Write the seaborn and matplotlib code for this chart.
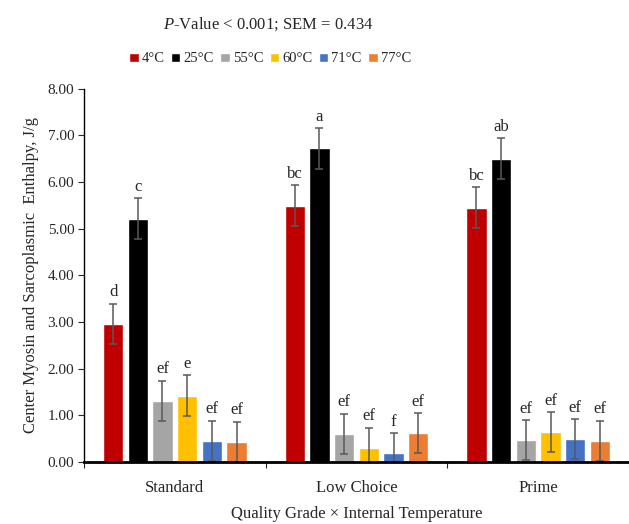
import numpy as np
import pandas as pd
import matplotlib
matplotlib.use("Agg")
import matplotlib.pyplot as plt
import seaborn as sns

grades = ["Standard", "Low Choice", "Prime"]
temps = ["4°C", "25°C", "55°C", "60°C", "71°C", "77°C"]
colors = ["#C00000", "#000000", "#A5A5A5", "#FFC000", "#4472C4", "#ED7D31"]

# enthalpy by grade, one list per temperature order above
standard = [2.96, 5.21, 1.31, 1.42, 0.45, 0.43]
low_choice = [5.49, 6.72, 0.60, 0.30, 0.19, 0.62]
prime = [5.45, 6.50, 0.47, 0.64, 0.49, 0.45]
sem = 0.434

letters_standard = ["d", "c", "ef", "e", "ef", "ef"]
letters_low_choice = ["bc", "a", "ef", "ef", "f", "ef"]
letters_prime = ["bc", "ab", "ef", "ef", "ef", "ef"]

rows = []
for g, vals, labs in zip(grades, [standard, low_choice, prime],
                         [letters_standard, letters_low_choice, letters_prime]):
    for t, v, l in zip(temps, vals, labs):
        rows.append({"grade": g, "temp": t, "value": v, "letter": l})
df = pd.DataFrame(rows)

sns.set_style("ticks")
plt.rcParams["font.family"] = ["Liberation Serif", "DejaVu Serif"]
plt.rcParams["mathtext.fontset"] = "custom"
plt.rcParams["mathtext.rm"] = "Liberation Serif"
plt.rcParams["mathtext.it"] = "Liberation Serif:italic"

fig = plt.figure(figsize=(6.29, 5.24), dpi=100)
ax = fig.add_axes([84 / 629, 62 / 524, 545 / 629, 373.5 / 524])

sns.barplot(data=df, x="grade", y="value", hue="temp", order=grades,
            hue_order=temps, palette=colors, width=0.815, gap=0.18,
            saturation=1, errorbar=None, ax=ax)

# error bars and letters
for cont, t in zip(ax.containers, temps):
    sub = df[df["temp"] == t].set_index("grade").loc[grades]
    xs = [b.get_x() + b.get_width() / 2 for b in cont]
    ax.errorbar(xs, sub["value"], yerr=sem, fmt="none", ecolor="#595959",
                elinewidth=1.1, capsize=3, capthick=1.1)
    for x, v, l in zip(xs, sub["value"], sub["letter"]):
        ax.text(x, v + sem + 0.07, l, ha="center", va="bottom", fontsize=12)

ax.set_ylim(0, 8)
ax.set_xlim(-0.5, 2.462)
ax.set_yticks(np.arange(0, 8.01, 1))
ax.set_yticklabels([f"{v:.2f}" for v in np.arange(0, 8.01, 1)], fontsize=11)
ax.set_xticks([0, 1, 2])
ax.set_xticklabels(grades, fontsize=12)
ax.set_xticks([-0.5, 0.5, 1.5, 2.5], minor=True)
ax.tick_params(axis="x", which="major", length=0, pad=13)
ax.tick_params(axis="x", which="minor", length=4, width=0.8, direction="out")
ax.tick_params(axis="y", length=4, width=0.8, direction="out", pad=3)
for s in ["top", "right"]:
    ax.spines[s].set_visible(False)
ax.spines["left"].set_color("black")
ax.spines["left"].set_linewidth(1.0)
ax.spines["bottom"].set_color("black")
ax.spines["bottom"].set_linewidth(2.0)

ax.set_xlabel("Quality Grade × Internal Temperature", fontsize=12, labelpad=7)
ax.set_ylabel("Center Myosin and Sarcoplasmic  Enthalpy, J/g", fontsize=12, labelpad=6)

sns.move_legend(ax, "center", bbox_to_anchor=(270 / 629, 465 / 524),
                bbox_transform=fig.transFigure, ncol=6, frameon=False,
                title=None, fontsize=10.5, handlelength=0.65, handleheight=0.65,
                columnspacing=0.45, handletextpad=0.2)

fig.text(268 / 629, 500 / 524, "$\\it{P}$-Value < 0.001; SEM = 0.434",
         ha="center", va="center", fontsize=12)

fig.savefig("out.png", dpi=100)
